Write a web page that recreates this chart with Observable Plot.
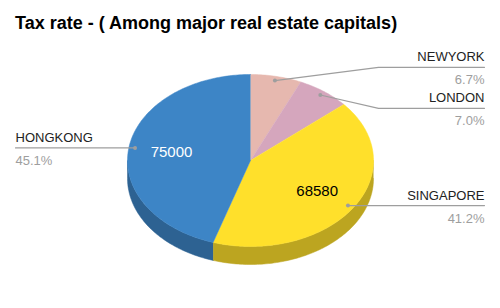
<!DOCTYPE html>
<html><head><meta charset="utf-8">
<script src="https://cdn.jsdelivr.net/npm/d3@7"></script>
<script src="https://cdn.jsdelivr.net/npm/@observablehq/plot@0.6"></script>
<style>
body{margin:0;background:#fff;}
#title{height:38px;box-sizing:border-box;padding:14px 0 0 15px;font:bold 18px/18px "Liberation Sans",Arial,sans-serif;color:#000;white-space:nowrap;}
</style></head><body>
<div id="title">Tax rate - ( Among major real estate capitals)</div>
<div id="chart"></div>
<script>
// ---- data ----
const cities = ["NEWYORK", "LONDON", "SINGAPORE", "HONGKONG"];
const values = [11140, 11640, 68580, 75000];
const showValue = [false, false, true, true];
const topColors = ["#e6b8af", "#d5a6bd", "#ffe02b", "#3d85c6"];

// ---- layout ----
const W = 500, H = 270, top0 = 38;
const cx = 250, cy = 160, rx = 123, ry = 86, depth = 18;
const total = d3.sum(values);
const arcs = d3.pie().sort(null).value(d => d)(values);
const pt = (a, k = 1, dy = 0) => ({x: cx + k * rx * Math.sin(a), y: cy - k * ry * Math.cos(a) + dy});
const steps = (a0, a1) => {
  const n = Math.max(2, Math.ceil((a1 - a0) / (Math.PI / 180)));
  return d3.range(n + 1).map(i => a0 + (a1 - a0) * i / n);
};

const tops = [], sides = [];
arcs.forEach((s, i) => {
  const c = topColors[i];
  tops.push({key: i, color: c, x: cx, y: cy});
  steps(s.startAngle, s.endAngle).forEach(a => tops.push({key: i, color: c, ...pt(a)}));
  const a0 = Math.max(s.startAngle, Math.PI / 2), a1 = Math.min(s.endAngle, 3 * Math.PI / 2);
  if (a0 < a1) {
    const sc = d3.color(c).darker(0.85).formatHex();
    const st = steps(a0, a1);
    st.forEach(a => sides.push({key: i, color: sc, ...pt(a)}));
    st.slice().reverse().forEach(a => sides.push({key: i, color: sc, ...pt(a, 1, depth)}));
  }
});

// labels
const labels = arcs.map((s, i) => {
  const m = (s.startAngle + s.endAngle) / 2;
  const an = pt(m, 0.95);
  const v = pt(m, 0.65);
  return {i, name: cities[i], pct: d3.format(".1%")(values[i] / total), right: Math.sin(m) >= 0,
    ax: an.x, ay: an.y, ly: an.y, vx: v.x, vy: v.y, value: String(values[i]), show: showValue[i],
    vcolor: d3.lab(topColors[i]).l > 65 ? "#000" : "#fff"};
});
function spread(items, gap) {
  items.sort((a, b) => a.ay - b.ay);
  let cl = items.map(d => ({items: [d]}));
  const center = c => d3.mean(c.items, d => d.ay);
  const start = c => center(c) - (c.items.length - 1) * gap / 2;
  const end = c => center(c) + (c.items.length - 1) * gap / 2;
  let merged = true;
  while (merged) {
    merged = false;
    for (let k = 0; k < cl.length - 1; k++) {
      if (start(cl[k + 1]) - end(cl[k]) < gap) {
        cl.splice(k, 2, {items: [...cl[k].items, ...cl[k + 1].items]});
        merged = true; break;
      }
    }
  }
  cl.forEach(c => c.items.forEach((d, j) => d.ly = start(c) + j * gap));
}
const rightLabels = labels.filter(d => d.right);
const leftLabels = labels.filter(d => !d.right);
spread(rightLabels, 41);
spread(leftLabels, 41);
const leaders = [];
labels.forEach(d => {
  const kx = d.right ? cx + rx + 5 : cx - rx - 5;
  d.ex = d.right ? 484 : 15;
  leaders.push({key: d.i, x: d.ax, y: d.ay}, {key: d.i, x: kx, y: d.ly}, {key: d.i, x: d.ex, y: d.ly});
});

const font = '"Liberation Sans", Arial, sans-serif';
const labelMarks = (data, anchor) => [
  Plot.text(data, {x: "ex", y: "ly", text: "name", textAnchor: anchor, lineAnchor: "bottom", dy: -6, fontSize: 13, fill: "#222"}),
  Plot.text(data, {x: "ex", y: "ly", text: "pct", textAnchor: anchor, lineAnchor: "bottom", dy: 17, fontSize: 13, fill: "#9e9e9e"})
];
const plot = Plot.plot({
  width: W, height: H, margin: 0,
  style: {fontFamily: font, background: "#fff"},
  x: {domain: [0, W], range: [0, W], axis: null},
  y: {domain: [top0, top0 + H], range: [0, H], axis: null},
  color: {type: "identity"},
  marks: [
    Plot.line(sides, {x: "x", y: "y", z: "key", fill: "color", stroke: "color", strokeWidth: 0.5}),
    Plot.line(tops, {x: "x", y: "y", z: "key", fill: "color", stroke: "color", strokeWidth: 0.5}),
    Plot.line(leaders, {x: "x", y: "y", z: "key", stroke: "#9e9e9e", strokeWidth: 1.2}),
    Plot.dot(labels, {x: "ax", y: "ay", r: 2, fill: "#9e9e9e"}),
    ...labelMarks(rightLabels, "end"),
    ...labelMarks(leftLabels, "start"),
    Plot.text(labels.filter(d => d.show), {x: "vx", y: "vy", text: "value", fill: "vcolor", fontSize: 15})
  ]
});
document.getElementById("chart").appendChild(plot);
</script>
</body></html>
